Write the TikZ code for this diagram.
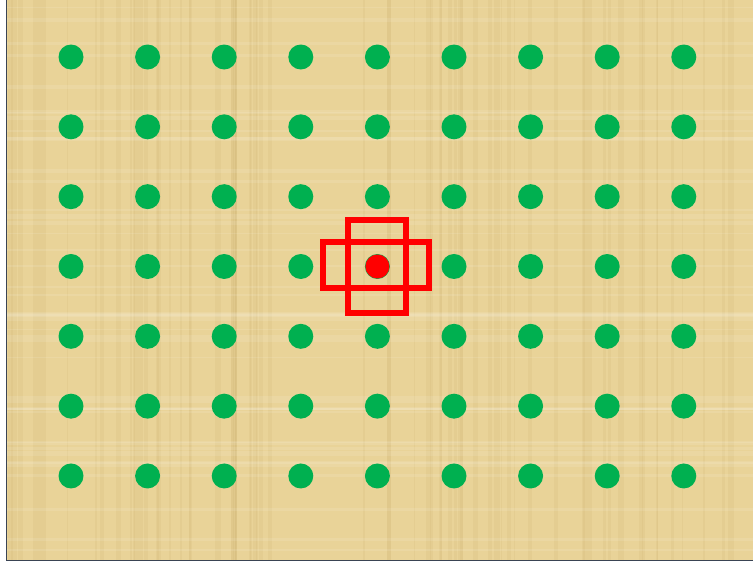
\documentclass[tikz,border=0pt]{standalone}
\definecolor{papyrus}{RGB}{233,211,152}
\definecolor{fibre}{RGB}{196,168,102}
\definecolor{dotgreen}{RGB}{0,176,80}
\definecolor{framegray}{RGB}{58,68,84}
\begin{document}
\begin{tikzpicture}[x=1pt,y=-1pt]
  \useasboundingbox (0,0) rectangle (753,565);
  % sheet
  \fill[papyrus] (6.5,0) rectangle (753,560.5);
  \pgfmathsetseed{11}
  \foreach \i in {1,...,70}{
    \pgfmathsetmacro\sx{rnd*740+7}
    \pgfmathsetmacro\sw{rnd*5+1}
    \fill[fibre,opacity=0.12] (\sx,0) rectangle ++(\sw,560.5);
  }
  \foreach \i in {1,...,45}{
    \pgfmathsetmacro\sy{rnd*555}
    \pgfmathsetmacro\sh{rnd*4+1}
    \fill[white,opacity=0.10] (7,\sy) rectangle ++(746,\sh);
  }
  \draw[framegray,line width=1.5] (6.5,0) -- (6.5,560.5) -- (753,560.5);
  % grid of points
  \foreach \c in {0,...,8}
    \foreach \r in {0,...,6}
      \fill[dotgreen] (71+76.6*\c,57+69.83*\r) circle (12.5);
  % centre point and window
  \fill[red] (377.4,266.5) circle (12);
  \draw[red,line width=6] (348,220) rectangle (406,313);
  \draw[red,line width=6] (323,242) rectangle (429,288);
\end{tikzpicture}
\end{document}
